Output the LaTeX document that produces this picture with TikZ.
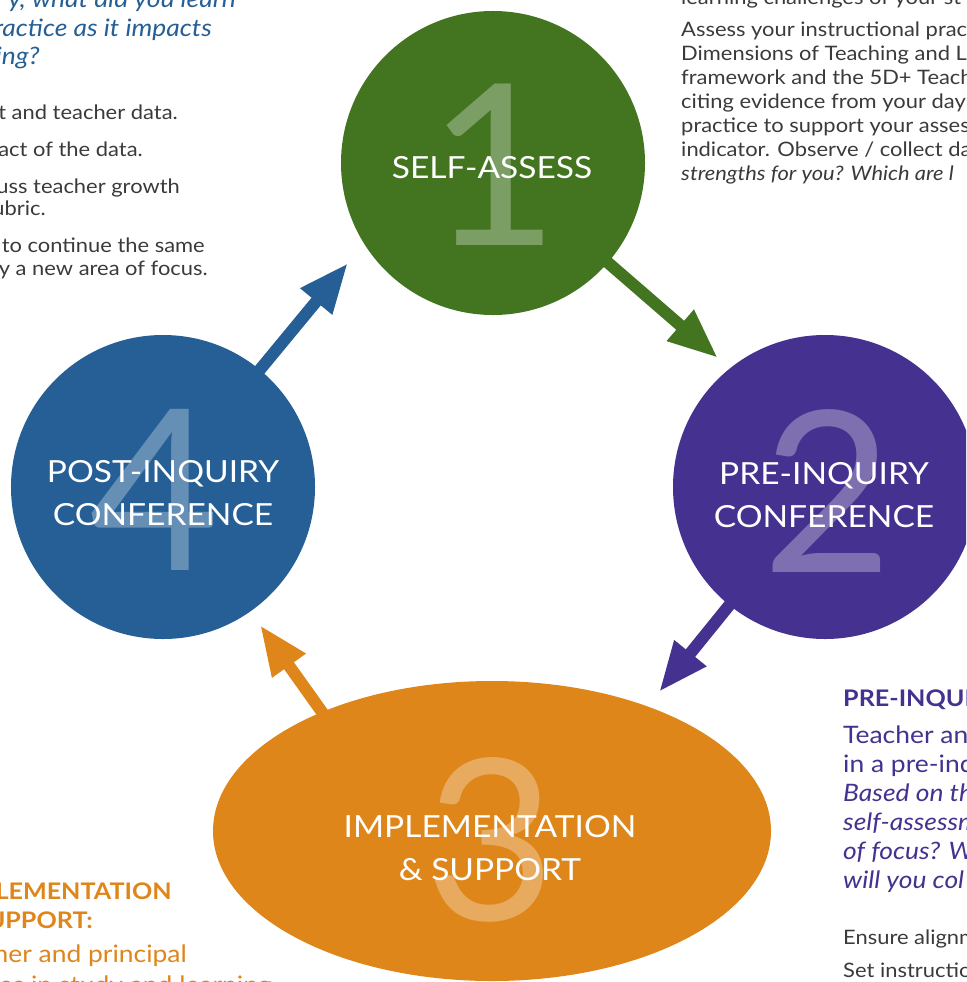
\documentclass[tikz,border=0pt]{standalone}
\usepackage{fontspec}
\setmainfont{Lato}[FakeStretch=1.1]
\newfontfamily\numfont{Lato}
\usetikzlibrary{positioning, arrows.meta, shapes.geometric}
\definecolor{stepgreen}{HTML}{437521}
\definecolor{steppurple}{HTML}{45318F}
\definecolor{stepblue}{HTML}{255F96}
\definecolor{steporange}{HTML}{DE861A}
\definecolor{bodygray}{HTML}{3A3A3A}
\newcommand{\bignum}[1]{{\numfont\fontsize{192}{192}\selectfont #1}}
\pgfdeclarelayer{back}
\pgfsetlayers{back,main}
\tikzset{
  stage/.style={circle, minimum size=9.12cm, inner sep=0pt},
  stagelabel/.style={text=white, align=center, inner sep=0pt, font=\fontsize{26}{36}\selectfont},
  stagenum/.style={text=white, text opacity=0.3, inner sep=0pt},
  flow/.style={line width=0.36cm, -{Triangle[length=1.5cm,width=1.14cm]}},
  ask/.style={inner sep=0pt, font=\fontsize{20.5}{24}\selectfont\itshape},
  say/.style={inner sep=0pt, font=\fontsize{20.5}{24}\selectfont},
  head/.style={inner sep=0pt, font=\fontsize{19.5}{24}\selectfont\bfseries},
  body/.style={inner sep=0pt, text=bodygray, font=\fontsize{17}{20}\selectfont},
}

\begin{document}
\begin{tikzpicture}[x=0.03cm, y=-0.03cm]
    \useasboundingbox (0,0) rectangle (966,982);
    \clip (0,0) rectangle (966,982);

    % the four stages
    \node (selfassess) at (493,163) [stage, fill=stepgreen] {};
    \node (preinq)     at (825,487) [stage, fill=steppurple] {};
    \node (impl)       at (492,831) [ellipse, minimum width=16.74cm, minimum height=9cm, inner sep=0pt, fill=steporange] {};
    \node (postinq)    at (163,487) [stage, fill=stepblue] {};

    \node (num1) at (494,165) [stagenum] {\bignum{1}};
    \node (num2) at (828,491) [stagenum] {\bignum{2}};
    \node (num3) at (491,840) [stagenum] {\bignum{3}};
    \node (num4) at (155,490) [stagenum] {\bignum{4}};

    \node (lbl1) at (492,168) [stagelabel] {SELF-ASSESS};
    \node (lbl2) at (824,495) [stagelabel] {PRE-INQUIRY\\CONFERENCE};
    \node (lbl3) at (490,848) [stagelabel] {IMPLEMENTATION\\\& SUPPORT};
    \node (lbl4) at (163,493) [stagelabel] {POST-INQUIRY\\CONFERENCE};

    % arrows between the stages
    \coordinate (tip12) at (718,358);
    \coordinate (tip23) at (659,692);
    \coordinate (tip34) at (260,625);
    \coordinate (tip41) at (348,263);
    \begin{pgfonlayer}{back}
    \draw[flow, stepgreen]  (selfassess.center) -- (tip12);
    \draw[flow, steppurple] (preinq.center) -- (tip23);
    \draw[flow, steporange, shorten <=-0.6cm] (impl.145) -- (tip34);
    \draw[flow, stepblue]   (postinq.center) -- (tip41);
    \end{pgfonlayer}

    % text round the cycle
    \node (post1) at (236,8)  [ask, text=stepblue, anchor=base east] {y, what did you learn};
    \node (post2) at (212,37) [ask, text=stepblue, anchor=base east] {practice as it impacts};
    \node (post3) at (40,65)  [ask, text=stepblue, anchor=base east] {ing?};
    \node (post4) at (178,119) [body, anchor=base east] {t and teacher data.};
    \node (post5) at (143,156) [body, anchor=base east] {act of the data.};
    \node (post6) at (180,193) [body, anchor=base east] {cuss teacher growth};
    \node (post7) at (46,215)  [body, anchor=base east] {ubric.};
    \node (post8) at (205,252) [body, anchor=base east] {to continue the same};
    \node (post9) at (208,275) [body, anchor=base east] {fy a new area of focus.};

    \node (self1) at (681,5)   [body, anchor=base west] {learning challenges of your st};
    \node (self2) at (681,37)  [body, anchor=base west] {Assess your instructional pract};
    \node (self3) at (681,61)  [body, anchor=base west] {Dimensions of Teaching and L};
    \node (self4) at (681,84)  [body, anchor=base west] {framework and the 5D+ Teach};
    \node (self5) at (681,108) [body, anchor=base west] {citing evidence from your day-};
    \node (self6) at (681,132) [body, anchor=base west] {practice to support your asses};
    \node (self7) at (681,156) [body, anchor=base west] {indicator. Observe / collect da};
    \node (self8) at (681,180) [body, anchor=base west, font=\fontsize{17}{20}\selectfont\itshape] {strengths for you? Which are l};

    \node (pre1) at (843,706) [head, text=steppurple, anchor=base west] {PRE-INQUIRY};
    \node (pre2) at (843,743) [say, text=steppurple, anchor=base west] {Teacher and};
    \node (pre3) at (843,772) [say, text=steppurple, anchor=base west] {in a pre-inq};
    \node (pre4) at (843,801) [ask, text=steppurple, anchor=base west] {Based on th};
    \node (pre5) at (843,830) [ask, text=steppurple, anchor=base west] {self-assessm};
    \node (pre6) at (843,859) [ask, text=steppurple, anchor=base west] {of focus? W};
    \node (pre7) at (843,888) [ask, text=steppurple, anchor=base west] {will you col};
    \node (pre8) at (843,944) [body, anchor=base west] {Ensure alignm};
    \node (pre9) at (843,977) [body, anchor=base west] {Set instructio};

    \node (imp1) at (172,899) [head, text=steporange, anchor=base east] {IMPLEMENTATION};
    \node (imp2) at (93,928)  [head, text=steporange, anchor=base east] {\& SUPPORT:};
    \node (imp3) at (187,962) [say, text=steporange, anchor=base east] {Teacher and principal};
    \node (imp4) at (272,993) [say, text=steporange, anchor=base east] {es in study and learning};
\end{tikzpicture}
\end{document}
